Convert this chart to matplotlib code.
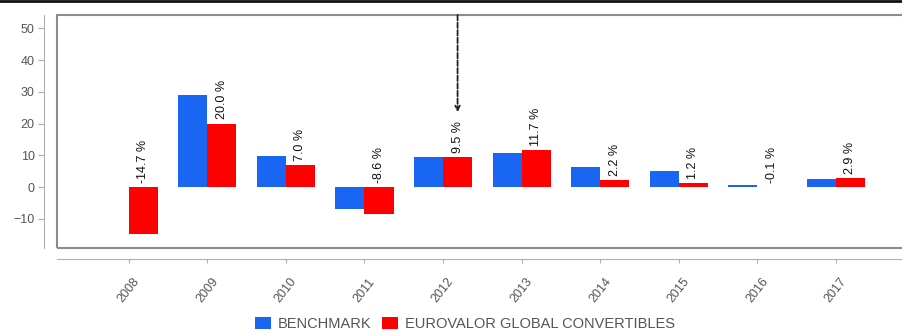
import matplotlib
matplotlib.use("Agg")
import matplotlib.pyplot as plt
from matplotlib.patches import Rectangle
from matplotlib.lines import Line2D
import numpy as np

plt.rcParams["font.family"] = ["Liberation Sans", "DejaVu Sans"]

years = ["2008", "2009", "2010", "2011", "2012", "2013", "2014", "2015", "2016", "2017"]
benchmark = [0.0, 29.0, 9.9, -6.9, 9.5, 10.7, 6.4, 5.1, 0.6, 2.4]
fund = [-14.7, 20.0, 7.0, -8.6, 9.5, 11.7, 2.2, 1.2, -0.1, 2.9]
series_names = ["BENCHMARK", "EUROVALOR GLOBAL CONVERTIBLES"]
blue = "#1866f2"
red = "#ff0000"
grey = "#8c8c8c"

fig = plt.figure(figsize=(9.03, 3.31), dpi=100)
ax = fig.add_axes([0.0631, 0.2508, 0.939, 0.7039])

x = np.arange(len(years))
w = 0.37
ax.bar(x - w / 2, benchmark, width=w, color=blue, label=series_names[0], zorder=2)
ax.bar(x + w / 2, fund, width=w, color=red, label=series_names[1], zorder=2)

ax.set_xlim(-0.915, 9.88)
ax.set_ylim(-19.2, 54.2)

# value labels above the fund bars
for xi, v in zip(x, fund):
    ax.text(xi + w / 2, max(v, 0) + 1.3, f"{v:.1f} %", rotation=90,
            ha="center", va="bottom", fontsize=9, color="#111111", zorder=3)

# dashed pointer down to the 2012 label
ax.annotate("", xy=(x[4] + w / 2, 23.6), xycoords="data",
            xytext=(x[4] + w / 2, 54.2), textcoords="data",
            arrowprops=dict(arrowstyle="->", linestyle=(0, (3, 1.2)),
                            color="#222222", lw=1.3, mutation_scale=8,
                            shrinkA=0, shrinkB=0), zorder=4)

# plot frame
for s in ax.spines.values():
    s.set_visible(False)
ax.add_patch(Rectangle((0, 0), 1, 1, transform=ax.transAxes, fill=False,
                       edgecolor=grey, lw=1.5, clip_on=False, zorder=1))

ax.spines["left"].set_visible(True)
ax.spines["left"].set_position(("outward", 9))
ax.spines["left"].set_color("#b0b0b0")
ax.spines["bottom"].set_visible(True)
ax.spines["bottom"].set_position(("outward", 8))
ax.spines["bottom"].set_color("#b0b0b0")

ax.set_yticks([-10, 0, 10, 20, 30, 40, 50])
ax.set_xticks(x)
ax.set_xticklabels(years, rotation=52, ha="center", va="top")
ax.tick_params(axis="y", length=4, color="#b0b0b0", labelsize=9,
               labelcolor="#555555", pad=3)
ax.tick_params(axis="x", length=3, color="#b0b0b0", labelsize=9,
               labelcolor="#555555", pad=9)

# rule along the top edge
fig.add_artist(Line2D([0, 1], [0.996, 0.996], transform=fig.transFigure,
                      color="#111111", lw=2))

fig.legend(loc="center", bbox_to_anchor=(0.515, 0.021), ncol=2,
           frameon=False, fontsize=10.5, handlelength=1.1, handleheight=0.9,
           handletextpad=0.5, columnspacing=0.7, labelcolor="#555555",
           borderpad=0)

fig.savefig("out.png", dpi=100)
